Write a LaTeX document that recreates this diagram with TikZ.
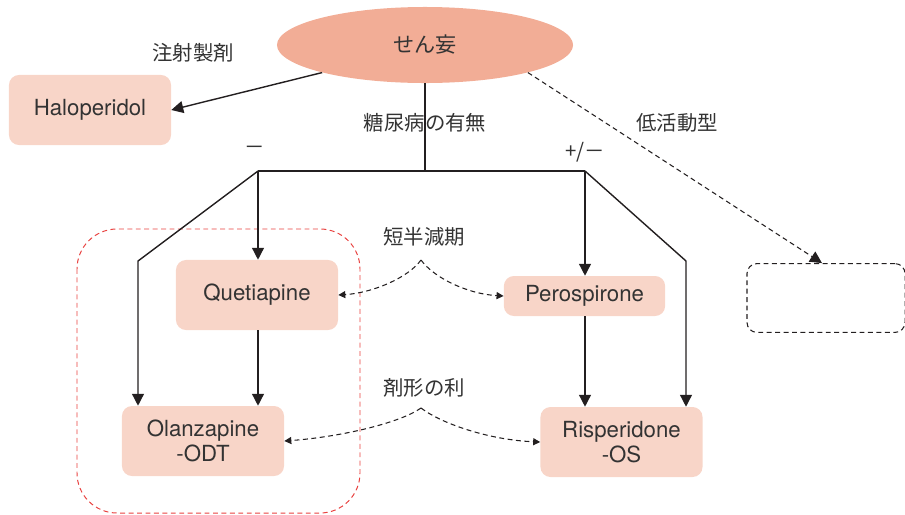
\documentclass[tikz,border=0pt]{standalone}
\usepackage{fontspec}
\setmainfont{TeX Gyre Heros}
\newfontfamily\jp{Noto Sans CJK JP}
\usetikzlibrary{arrows.meta, positioning, calc, shapes.geometric}
\definecolor{DelFill}{HTML}{F2AD96}
\definecolor{DrugFill}{HTML}{F8D5C8}
\definecolor{GroupRed}{HTML}{E8413F}
\definecolor{InkGray}{HTML}{333333}
\definecolor{LineInk}{HTML}{231F20}

\begin{document}
\begin{tikzpicture}[
        x=0.025cm, y=-0.025cm,
        every node/.style={text=InkGray},
        drug/.style={fill=DrugFill, rounded corners=0.25cm, minimum width=4.05cm,
                     minimum height=1.75cm, align=center,
                     font=\fontsize{15.8}{17.5}\selectfont},
        link/.style={line width=1pt, LineInk},
        arr/.style={link, -{Triangle[length=8.5pt, width=8.5pt]}},
        hint/.style={line width=0.75pt, LineInk, dash pattern=on 3.5pt off 2.5pt,
                     -{Triangle[length=5pt, width=5pt]}},
        lbl/.style={font=\jp\fontsize{14.5}{17}\selectfont},
      ]
        \useasboundingbox (0,0) rectangle (905,514);
        % group frame
        \draw[GroupRed, line width=0.7pt, dash pattern=on 3.5pt off 2.5pt, rounded corners=1cm]
              (77,229) rectangle (360,513);
        % nodes
        \node[ellipse, fill=DelFill, minimum width=7.4cm, minimum height=1.9cm,
              font=\jp\fontsize{15}{18}\selectfont] (delirium) at (425,45) {せん妄};
        \node[drug] (halo) at (90,110) {Haloperidol};
        \node[drug] (queti) at (257,295) {Quetiapine};
        \node[drug, minimum width=4.03cm, minimum height=1.0cm] (perosp) at (584.5,296) {Perospirone};
        \node[drug] (olan) at (203,441) {Olanzapine\\-ODT};
        \node[drug] (risp) at (621.5,442) {Risperidone\\-OS};
        \node[draw=LineInk, line width=0.75pt, dash pattern=on 3.5pt off 2.5pt,
              rounded corners=0.25cm, minimum width=3.95cm, minimum height=1.72cm]
              (blank) at (826,298) {};
        % labels
        \node[lbl] (inj) at (193,53) {注射製剤};
        \node[lbl] (dm) at (425,123) {糖尿病の有無};
        \node[lbl] (hypo) at (677,123) {低活動型};
        \node[lbl] (minus) at (255,150) {－};
        \node[lbl] (plusminus) at (585,152) {+/－};
        \node[lbl] (halflife) at (424,237) {短半減期};
        \node[lbl] (form) at (424,388) {剤形の利};
        % branch points
        \coordinate (split) at (425,171);
        \coordinate (lsplit) at (258,171);
        \coordinate (rsplit) at (585,171);
        \coordinate (lbend) at (138,261);
        \coordinate (rbend) at (686,261);
        \coordinate (halfpeak) at (421,260);
        \coordinate (formpeak) at (421,408);
        % connectors
        \draw[arr] (delirium.195) -- (halo.east);
        \draw[hint, -{Triangle[length=8.5pt, width=8.5pt]}] (delirium.-15) -- ($(blank.north)+(-4,0)$);
        \draw[link] (delirium.south) -- (split);
        \draw[link] (lsplit) -- (rsplit);
        \draw[arr] (lsplit) -- (queti.north -| lsplit);
        \draw[arr] (lsplit) -- (lbend) -- (olan.north -| lbend);
        \draw[arr] (rsplit) -- (perosp.north -| rsplit);
        \draw[arr] (rsplit) -- (rbend) -- (risp.north -| rbend);
        \draw[arr] (queti.south -| lsplit) -- (olan.north -| lsplit);
        \draw[arr] (perosp.south -| rsplit) -- (risp.north -| rsplit);
        \draw[hint] (halfpeak) .. controls (408,278) and (372,293) .. (queti.east);
        \draw[hint] (halfpeak) .. controls (434,278) and (468,294) .. (perosp.west);
        \draw[hint] (formpeak) .. controls (400,423) and (340,437) .. (olan.east);
        \draw[hint] (formpeak) .. controls (442,424) and (490,440) .. (risp.west);
      \end{tikzpicture}
\end{document}
